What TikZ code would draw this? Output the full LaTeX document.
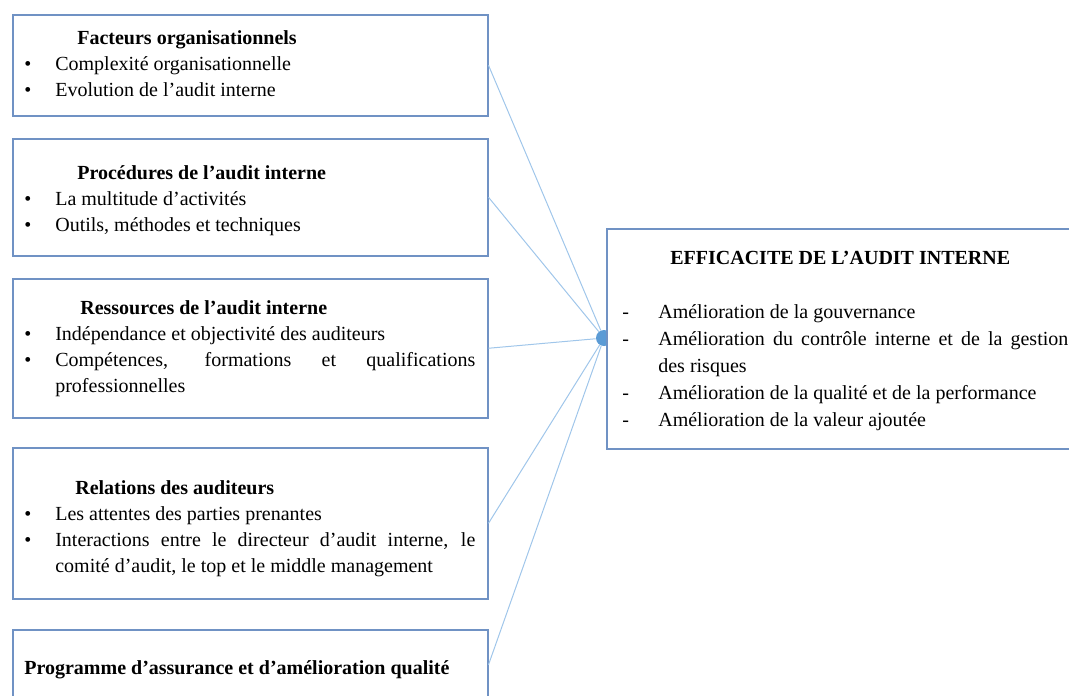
\documentclass[tikz,border=0pt]{standalone}
\usepackage{fontspec}
\setmainfont{Liberation Serif}
\usetikzlibrary{positioning}
\definecolor{cadrebleu}{RGB}{112,146,196}
\definecolor{lienbleu}{RGB}{160,198,234}
\definecolor{pointbleu}{RGB}{91,155,213}
\hyphenpenalty=10000
\exhyphenpenalty=10000
\newcommand\puce[1]{\par\hangindent=18.6pt\hangafter=1\noindent\makebox[18.6pt][l]{\textbullet}#1}
\newcommand\tiret[1]{\par\hangindent=21.6pt\hangafter=1\noindent\makebox[21.6pt][l]{-}#1}

\begin{document}
\begin{tikzpicture}[x=0.6pt, y=-0.6pt,
    cadre/.style={draw=cadrebleu, line width=0.9pt, fill=white, anchor=north west, inner sep=0pt, minimum width=285pt},
    texte/.style={anchor=north west, inner sep=0pt, text width=270.6pt, align=justify, font=\fontsize{12}{15.6}\selectfont},
    lien/.style={draw=lienbleu, line width=0.6pt},
    point/.style={circle, fill=pointbleu, inner sep=0pt, minimum size=9.6pt}]
  \useasboundingbox (0,0) rectangle (1069,695);
  \clip (0,0) rectangle (1069,695);

  % facteurs explicatifs
  \node[cadre, minimum height=60.6pt] (fo) at (12,14) {};
  \node[cadre, minimum height=70.2pt] (pr) at (12,138) {};
  \node[cadre, minimum height=83.4pt] (re) at (12,278) {};
  \node[cadre, minimum height=90.6pt] (ra) at (12,447) {};
  \node[cadre, minimum height=42pt] (pq) at (12,629) {};

  \node[texte] (foT) at (24,30) {\noindent\hspace*{31.8pt}\textbf{Facteurs organisationnels}\puce{Complexité organisationnelle}\puce{Evolution de l’audit interne}\par};
  \node[texte] (prT) at (24,165) {\noindent\hspace*{31.8pt}\textbf{Procédures de l’audit interne}\puce{La multitude d’activités}\puce{Outils, méthodes et techniques}\par};
  \node[texte] (reT) at (24,300) {\noindent\hspace*{33.6pt}\textbf{Ressources de l’audit interne}\puce{Indépendance et objectivité des auditeurs}\puce{Compétences, formations et qualifications\linebreak professionnelles}\par};
  \node[texte] (raT) at (24,480) {\noindent\hspace*{30.6pt}\textbf{Relations des auditeurs}\puce{Les attentes des parties prenantes}\puce{Interactions entre le directeur d’audit interne, le\linebreak comité d’audit, le top et le middle management}\par};
  \node[texte] (pqT) at (24,660) {\noindent\textbf{Programme d’assurance et d’amélioration qualité}\par};

  % efficacite
  \node[point] (pt) at (604,338) {};
  \node[cadre, minimum width=284.4pt, minimum height=132pt] (eff) at (606,228) {};
  \node[texte, text width=267.6pt, font=\fontsize{12}{16.2}\selectfont] (effT) at (622,251) {\noindent\hspace*{28.8pt}\textbf{EFFICACITE DE L’AUDIT INTERNE}\par
    \vspace{16.2pt}
    \tiret{Amélioration de la gouvernance}\tiret{Amélioration du contrôle interne et de la gestion\linebreak des risques}\tiret{Amélioration de la qualité et de la performance}\tiret{Amélioration de la valeur ajoutée}\par};

  \foreach \b in {fo,pr,re,ra,pq}
    \draw[lien] (\b.east) -- (pt);
\end{tikzpicture}
\end{document}
